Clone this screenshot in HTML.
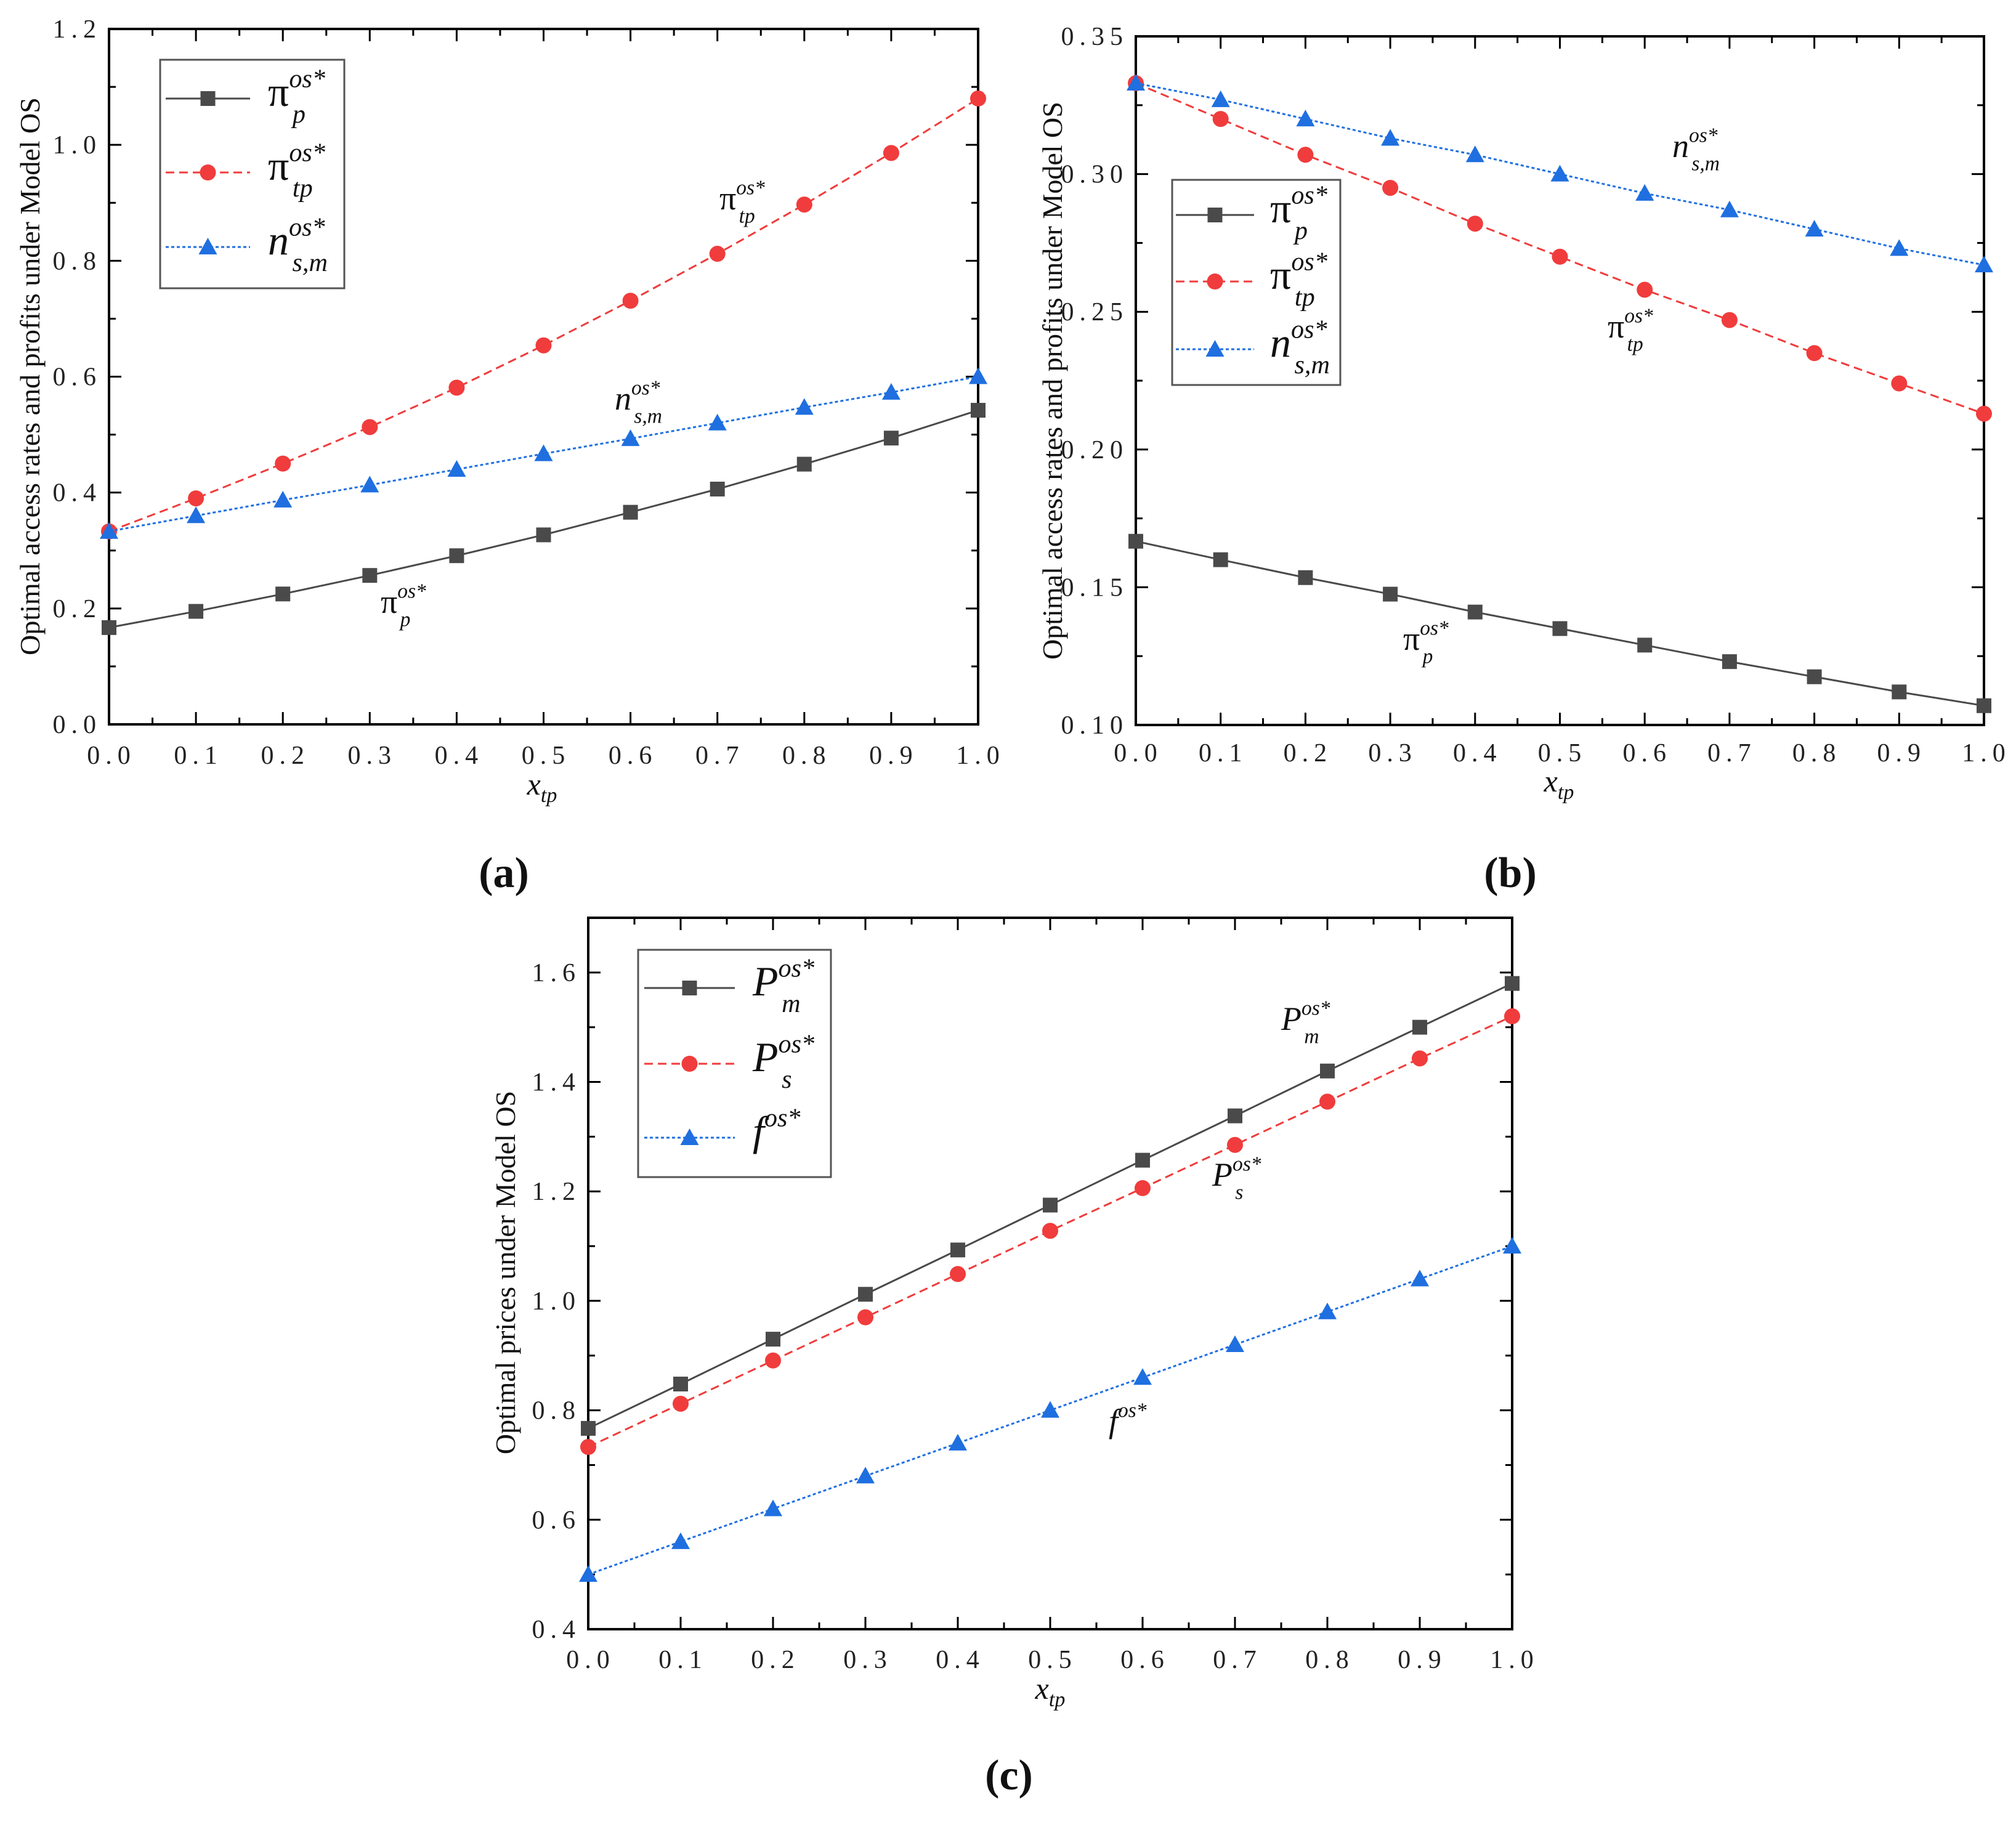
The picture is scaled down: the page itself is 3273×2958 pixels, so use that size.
<!DOCTYPE html>
<html><head><meta charset="utf-8"><style>
html,body{margin:0;padding:0;background:#fff;}
svg{display:block;font-family:"Liberation Serif",serif;}
</style></head><body>
<svg id="fig" width="3273" height="2958" viewBox="0 0 3273 2958" xmlns="http://www.w3.org/2000/svg"></svg>
<script>
const xCats=[0,0.1,0.2,0.3,0.4,0.5,0.6,0.7,0.8,0.9,1.0];
const xTickLabels=["0.0","0.1","0.2","0.3","0.4","0.5","0.6","0.7","0.8","0.9","1.0"];
// panel a
const aPiP=[0.167,0.195,0.225,0.257,0.291,0.327,0.366,0.406,0.449,0.494,0.542];
const aPiTp=[0.333,0.39,0.45,0.513,0.581,0.654,0.731,0.812,0.897,0.986,1.08];
const aN=[0.333,0.36,0.387,0.413,0.44,0.467,0.493,0.52,0.547,0.573,0.6];
const aYTicks=[0,0.2,0.4,0.6,0.8,1.0,1.2];
const aYLabels=["0.0","0.2","0.4","0.6","0.8","1.0","1.2"];
// panel b
const bPiP=[0.1667,0.160,0.1535,0.1475,0.141,0.135,0.129,0.123,0.1175,0.112,0.107];
const bPiTp=[0.333,0.320,0.307,0.295,0.282,0.270,0.258,0.247,0.235,0.224,0.213];
const bN=[0.333,0.327,0.320,0.313,0.307,0.300,0.293,0.287,0.280,0.273,0.267];
const bYTicks=[0.10,0.15,0.20,0.25,0.30,0.35];
const bYLabels=["0.10","0.15","0.20","0.25","0.30","0.35"];
// panel c
const cPm=[0.767,0.848,0.93,1.012,1.093,1.175,1.257,1.338,1.42,1.5,1.58];
const cPs=[0.733,0.812,0.891,0.97,1.049,1.128,1.206,1.285,1.364,1.443,1.52];
const cF=[0.5,0.56,0.62,0.68,0.74,0.8,0.86,0.92,0.98,1.04,1.10];
const cYTicks=[0.4,0.6,0.8,1.0,1.2,1.4,1.6];
const cYLabels=["0.4","0.6","0.8","1.0","1.2","1.4","1.6"];

const NS="http://www.w3.org/2000/svg";
const svg=document.getElementById('fig');
function mk(tag,attrs,parent){const e=document.createElementNS(NS,tag);for(const k in attrs)e.setAttribute(k,attrs[k]);(parent||svg).appendChild(e);return e;}
const DARK="#4a4a4a",RED="#f03c3c",BLUE="#1f6fe0";
const STYLES={sq:{c:DARK,dash:""},ci:{c:RED,dash:"14,8"},tr:{c:BLUE,dash:"5,4"}};

function marker(g,type,x,y){
  let m;
  if(type==='sq'){m=mk('rect',{x:x-12,y:y-12,width:24,height:24,fill:DARK},g);}
  else if(type==='ci'){m=mk('circle',{cx:x,cy:y,r:13,fill:RED},g);}
  else {m=mk('polygon',{points:`${x},${y-15} ${x+15},${y+12} ${x-15},${y+12}`,fill:BLUE},g);}
  
  
}

function panel(p){
  const g=mk('g',{});
  
  
  const sx=v=>p.L+(v-0)/(1-0)*(p.R-p.L);
  const sy=v=>p.B-(v-p.ymin)/(p.ymax-p.ymin)*(p.B-p.T);
  const frame=mk('rect',{x:p.L,y:p.T,width:p.R-p.L,height:p.B-p.T,fill:'none',stroke:'#000','stroke-width':4},g);
  
  
  xCats.forEach((v,i)=>{
    const x=sx(v);
    mk('line',{x1:x,y1:p.B,x2:x,y2:p.B-20,stroke:'#000','stroke-width':3},g);
    mk('line',{x1:x,y1:p.T,x2:x,y2:p.T+20,stroke:'#000','stroke-width':3},g);
    if(i<xCats.length-1){const xm=sx(v+0.05);
      mk('line',{x1:xm,y1:p.B,x2:xm,y2:p.B-11,stroke:'#000','stroke-width':3},g);
      mk('line',{x1:xm,y1:p.T,x2:xm,y2:p.T+11,stroke:'#000','stroke-width':3},g);}
    const t=mk('text',{x:x+4,y:p.xLabY,'text-anchor':'middle','font-size':42,'letter-spacing':9,fill:'#222'},g);
    t.textContent=xTickLabels[i];
    
    
  });
  const step=p.yTicks[1]-p.yTicks[0];
  p.yTicks.forEach((v,i)=>{
    const y=sy(v);
    mk('line',{x1:p.L,y1:y,x2:p.L+20,y2:y,stroke:'#000','stroke-width':3},g);
    mk('line',{x1:p.R,y1:y,x2:p.R-20,y2:y,stroke:'#000','stroke-width':3},g);
    const ym=sy(v+step/2);
    if(ym>p.T+2){mk('line',{x1:p.L,y1:ym,x2:p.L+11,y2:ym,stroke:'#000','stroke-width':3},g);
      mk('line',{x1:p.R,y1:ym,x2:p.R-11,y2:ym,stroke:'#000','stroke-width':3},g);}
    const t=mk('text',{x:p.L-12,y:y+14,'text-anchor':'end','font-size':42,'letter-spacing':9,fill:'#222'},g);
    t.textContent=p.yLabels[i];
    
    
  });
  p.series.forEach(s=>{
    const st=STYLES[s.type];
    const pts=s.data.map((v,i)=>sx(xCats[i])+','+sy(v)).join(' ');
    const pl=mk('polyline',{points:pts,fill:'none',stroke:st.c,'stroke-width':3,'stroke-dasharray':st.dash},g);
    
    
    s.data.forEach((v,i)=>marker(g,s.type,sx(xCats[i]),sy(v)));
  });
  const yt=mk('text',{x:0,y:0,transform:`translate(${p.ytX},${p.ytY}) rotate(-90)`,'text-anchor':'middle','font-size':46,fill:'#111'},g);
  yt.textContent=p.yTitle;
  
  
  const xt=mk('text',{x:p.xtX,y:p.xtY,'text-anchor':'middle','font-size':50,'font-style':'italic',fill:'#111'},g);
  xt.innerHTML='x<tspan font-size="34" dy="12">tp</tspan>';
  
  
  const lg=mk('g',{},g);
  
  
  mk('rect',{x:p.leg.x,y:p.leg.y,width:p.leg.w,height:p.leg.h,fill:'#fff',stroke:'#555','stroke-width':3},lg);
  p.series.forEach((s,i)=>{
    const y=p.leg.rows[i],st=STYLES[s.type];
    const e=mk('g',{},lg);
    
    
    mk('line',{x1:p.leg.lx1,y1:y,x2:p.leg.lx2,y2:y,stroke:st.c,'stroke-width':3,'stroke-dasharray':st.dash},e);
    marker(e,s.type,(p.leg.lx1+p.leg.lx2)/2,y);
    symbol(e,p.leg.tx,y+12,s.sym,s.sub,68);
  });
  p.ann.forEach(a=>{symbol(g,a.x,a.y,a.sym,a.sub,54);});
}
function symbol(parent,x,y,sym,sub,fs){
  const t=mk('text',{x:x,y:y,'font-size':fs,'font-style':sym==='π'?'normal':'italic',fill:'#111'},parent);
  const subSpan=sub?`<tspan font-size="${fs*0.62}" font-style="italic" dx="${-fs*0.78}" dy="${fs*0.85}">${sub}</tspan>`:'';
  t.innerHTML=`${sym}<tspan font-size="${fs*0.62}" font-style="italic" dy="${-fs*0.45}">os*</tspan>${subSpan}`;
  
  
  return t;
}
const yTitle1="Optimal access rates and profits under Model OS";
panel({name:'panel-a',L:177,R:1588,T:47,B:1176,ymin:0,ymax:1.2,yTicks:aYTicks,yLabels:aYLabels,xLabY:1240,
  ytX:64,ytY:611,yTitle:yTitle1,xtX:880,xtY:1290,
  series:[{type:'sq',data:aPiP,name:'pi-p',sym:'π',sub:'p'},{type:'ci',data:aPiTp,name:'pi-tp',sym:'π',sub:'tp'},{type:'tr',data:aN,name:'n-sm',sym:'n',sub:'s,m'}],
  leg:{x:260,y:97,w:299,h:371,rows:[160,280,401],lx1:269,lx2:406,tx:435},
  ann:[{x:1168,y:340,sym:'π',sub:'tp'},{x:998,y:665,sym:'n',sub:'s,m'},{x:618,y:995,sym:'π',sub:'p'}]});
panel({name:'panel-b',L:1844,R:3221,T:59,B:1177,ymin:0.10,ymax:0.35,yTicks:bYTicks,yLabels:bYLabels,xLabY:1236,
  ytX:1724,ytY:618,yTitle:yTitle1,xtX:2531,xtY:1285,
  series:[{type:'sq',data:bPiP,name:'pi-p',sym:'π',sub:'p'},{type:'ci',data:bPiTp,name:'pi-tp',sym:'π',sub:'tp'},{type:'tr',data:bN,name:'n-sm',sym:'n',sub:'s,m'}],
  leg:{x:1903,y:292,w:273,h:333,rows:[349,457,567],lx1:1909,lx2:2036,tx:2062},
  ann:[{x:2715,y:255,sym:'n',sub:'s,m'},{x:2610,y:548,sym:'π',sub:'tp'},{x:2278,y:1055,sym:'π',sub:'p'}]});
panel({name:'panel-c',L:955,R:2455,T:1490,B:2645,ymin:0.4,ymax:1.7,yTicks:cYTicks,yLabels:cYLabels,xLabY:2708,
  ytX:836,ytY:2066,yTitle:"Optimal  prices under Model OS",xtX:1705,xtY:2758,
  series:[{type:'sq',data:cPm,name:'p-m',sym:'P',sub:'m'},{type:'ci',data:cPs,name:'p-s',sym:'P',sub:'s'},{type:'tr',data:cF,name:'f',sym:'f',sub:''}],
  leg:{x:1036,y:1542,w:313,h:369,rows:[1604,1727,1847],lx1:1046,lx2:1193,tx:1222},
  ann:[{x:2080,y:1672,sym:'P',sub:'m'},{x:1968,y:1925,sym:'P',sub:'s'},{x:1800,y:2325,sym:'f',sub:''}]});
[["(a)",818,1440],["(b)",2452,1440],["(c)",1638,2905]].forEach(([s,x,y])=>{
  const t=mk('text',{x:x,y:y,'text-anchor':'middle','font-size':70,'font-weight':'bold',fill:'#111'});
  t.textContent=s;
  
  
});
</script>
</body></html>
